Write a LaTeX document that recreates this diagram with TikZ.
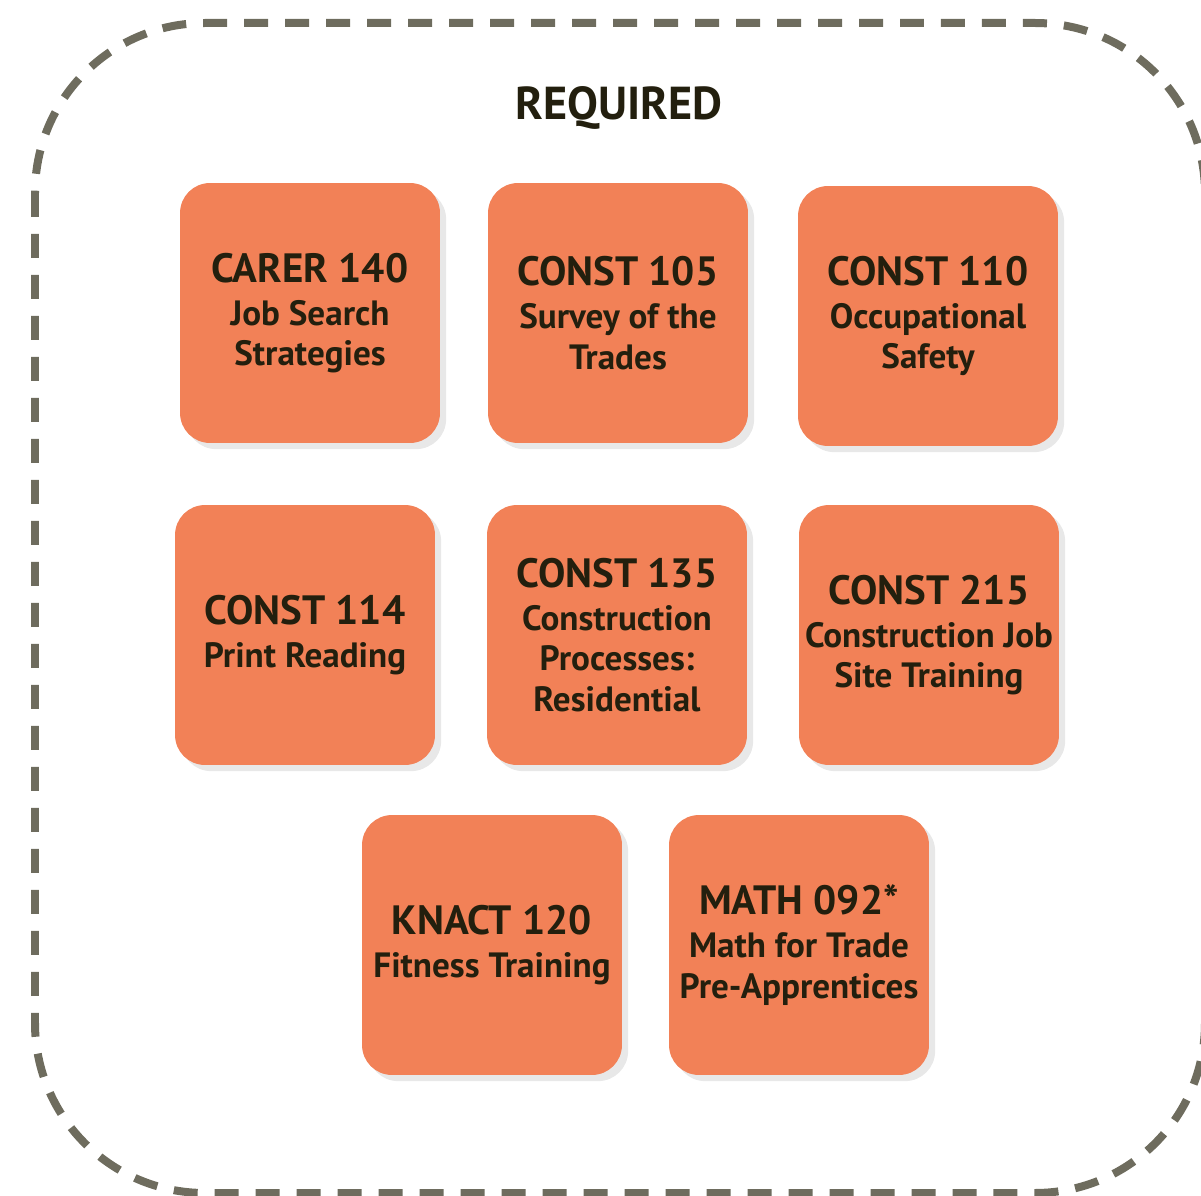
\documentclass[tikz,border=0pt]{standalone}
\usepackage{fontspec}
\setmainfont{PT Sans}
\usetikzlibrary{shadows}

\definecolor{naranja}{HTML}{F28157}
\definecolor{borde}{HTML}{6E6C5E}
\definecolor{tinta}{HTML}{231F0E}

\tikzset{
  curso/.style={fill=naranja, rounded corners=0.6cm,
    minimum width=5.2cm, minimum height=5.2cm, inner sep=0pt,
    align=center, text=tinta,
    font=\bfseries\fontsize{20}{23}\selectfont,
    drop shadow={shadow xshift=3.5pt, shadow yshift=-3.5pt, fill=black, opacity=0.09}},
  titulo/.style={text=tinta, font=\bfseries\fontsize{26.3}{30}\selectfont},
}
\newcommand{\codigo}[1]{{\fontsize{23.3}{27}\selectfont #1}}

\begin{document}
\begin{tikzpicture}[x=0.02cm, y=-0.02cm]
    \useasboundingbox (0,0) rectangle (1201,1196);

    % Marco
    \draw[borde, line width=0.16cm, dash pattern=on 0.48cm off 0.34cm, rounded corners=3.4cm]
        (35,23) rectangle (1205,1193);

    % Titulo
    \node[titulo] (req) at (619,108) {REQUIRED};

    % Cursos
    \node[curso] (carer) at (310,313) {\codigo{CARER 140}\\[1.5pt]Job Search\\Strategies};
    \node[curso] (c105) at (618,313) {\codigo{CONST 105}\\[1.5pt]Survey of the\\Trades};
    \node[curso] (c110) at (928,316) {\codigo{CONST 110}\\[1.5pt]Occupational\\Safety};
    \node[curso] (c114) at (305,635) {\codigo{CONST 114}\\[1.5pt]Print Reading};
    \node[curso] (c135) at (617,635) {\codigo{CONST 135}\\[1.5pt]Construction\\Processes:\\Residential};
    \node[curso] (c215) at (929,635) {\codigo{CONST 215}\\[1.5pt]Construction Job\\Site Training};
    \node[curso] (knact) at (492,945) {\codigo{KNACT 120}\\[1.5pt]Fitness Training};
    \node[curso] (math) at (799,945) {\codigo{MATH 092*}\\[1.5pt]Math for Trade\\Pre-Apprentices};
\end{tikzpicture}
\end{document}
